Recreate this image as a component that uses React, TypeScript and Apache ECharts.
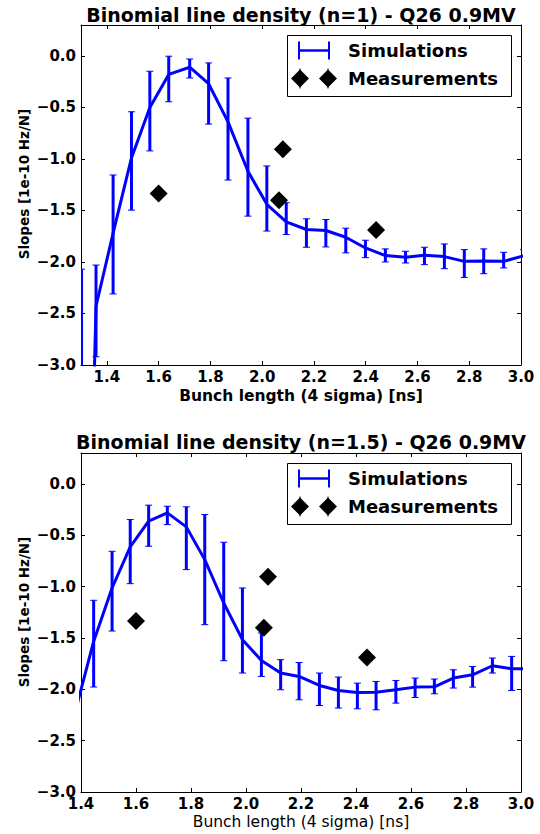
import React, { useEffect, useRef } from 'react';
import * as echarts from 'echarts';

// ---- Data ----
const titles = [
  'Binomial line density (n=1) - Q26 0.9MV',
  'Binomial line density (n=1.5) - Q26 0.9MV',
];
const xName = 'Bunch length (4 sigma) [ns]';
const yName = 'Slopes [1e-10 Hz/N]';
const legendNames = ['Simulations', 'Measurements'];

// Chart 1 (n=1): simulations with asymmetric error bars
const simX1 = [1.302, 1.358, 1.424, 1.495, 1.566, 1.639, 1.72, 1.793, 1.868, 1.945, 2.018, 2.093, 2.171, 2.246, 2.323, 2.399, 2.476, 2.554, 2.627, 2.704, 2.781, 2.856, 2.933, 3.01];
const simY1 = [-8.0, -2.43, -1.72, -0.99, -0.5, -0.18, -0.11, -0.27, -0.64, -1.12, -1.44, -1.61, -1.685, -1.695, -1.76, -1.864, -1.938, -1.955, -1.935, -1.948, -1.994, -1.99, -1.994, -1.94];
const simHi1 = [-2.07, -2.03, -1.156, -0.542, -0.149, -0.003, -0.03, -0.068, -0.214, -0.604, -1.068, -1.425, -1.581, -1.588, -1.672, -1.789, -1.873, -1.896, -1.857, -1.825, -1.88, -1.873, -1.906, -1.88];
const simLo1 = [-12.0, -2.92, -2.31, -1.497, -0.922, -0.445, -0.214, -0.662, -1.205, -1.555, -1.7, -1.734, -1.857, -1.854, -1.912, -1.958, -2.0, -2.01, -2.026, -2.065, -2.15, -2.114, -2.058, -2.0];

// Chart 2 (n=1.5)
const simX2 = [1.378, 1.446, 1.513, 1.579, 1.646, 1.714, 1.783, 1.85, 1.919, 1.987, 2.056, 2.126, 2.193, 2.267, 2.336, 2.405, 2.473, 2.545, 2.615, 2.685, 2.754, 2.824, 2.896, 2.966, 3.035];
const simY2 = [-2.23, -1.534, -1.014, -0.614, -0.364, -0.283, -0.419, -0.738, -1.16, -1.517, -1.719, -1.842, -1.875, -1.963, -2.012, -2.031, -2.028, -2.005, -1.979, -1.976, -1.891, -1.859, -1.771, -1.8, -1.8];
const simHi2 = [-1.9, -1.134, -0.657, -0.348, -0.208, -0.218, -0.224, -0.299, -0.569, -1.014, -1.452, -1.712, -1.739, -1.842, -1.881, -1.94, -1.924, -1.914, -1.891, -1.9, -1.81, -1.778, -1.696, -1.68, -1.7];
const simLo2 = [-2.6, -1.978, -1.433, -0.972, -0.608, -0.397, -0.835, -1.371, -1.722, -1.842, -1.875, -2.005, -2.102, -2.158, -2.183, -2.19, -2.2, -2.135, -2.08, -2.044, -1.988, -1.979, -1.842, -2.012, -1.9];

// Measurements (same in both charts)
const measX = [1.6, 2.08, 2.065, 2.44];
const measY = [-1.335, -0.905, -1.4, -1.69];

// Axes
const xRange1 = [1.3, 3.0];
const xRange2 = [1.4, 3.0];
const yRange = [-3.0, 0.3];
const xTicks = [1.4, 1.6, 1.8, 2.0, 2.2, 2.4, 2.6, 2.8, 3.0];
const yTicks = [-3.0, -2.5, -2.0, -1.5, -1.0, -0.5, 0.0];

const FONT = '"DejaVu Sans", sans-serif';
const BLUE = '#0000ff';

export default function App() {
  const ref = useRef<HTMLDivElement>(null);
  useEffect(() => {
    const chart = echarts.init(ref.current!, null, { renderer: 'svg' });

    const grids = [
      { left: 81, top: 25, width: 440, height: 340 },
      { left: 81, top: 453, width: 440, height: 339 },
    ];

    const fmt = (v: number) => {
      const s = (Math.abs(v) < 1e-9 ? 0 : v).toFixed(1);
      return s.replace('-', '\u2212');
    };

    const baseAxis = (gi: number, pos: string, min: number, max: number, ticks: number[], labels: boolean) => ({
      type: 'value',
      gridIndex: gi,
      position: pos,
      min,
      max,
      axisLine: { show: true, onZero: false, lineStyle: { color: '#000', width: 1 } },
      axisTick: { show: true, inside: true, length: 4, customValues: ticks, lineStyle: { color: '#000', width: 1 } },
      axisLabel: {
        show: labels,
        customValues: ticks,
        formatter: (v: number) => fmt(v),
        margin: pos === 'left' ? 5 : 4,
        fontSize: 15,
        fontWeight: 'bold',
        color: '#000',
        fontFamily: FONT,
      },
      splitLine: { show: false },
    });

    const xAxis: any[] = [];
    const yAxis: any[] = [];
    const xr = [xRange1, xRange2];
    [0, 1].forEach((gi) => {
      xAxis.push(baseAxis(gi, 'bottom', xr[gi][0], xr[gi][1], xTicks, true));
      xAxis.push(baseAxis(gi, 'top', xr[gi][0], xr[gi][1], xTicks, false));
      yAxis.push(baseAxis(gi, 'left', yRange[0], yRange[1], yTicks, true));
      yAxis.push(baseAxis(gi, 'right', yRange[0], yRange[1], yTicks, false));
    });

    const renderErr = (params: any, api: any) => {
      const x = api.value(0);
      const lo = api.value(1);
      const hi = api.value(2);
      const a = api.coord([x, hi]);
      const b = api.coord([x, lo]);
      const c = 3.5;
      return {
        type: 'group',
        children: [
          { type: 'line', shape: { x1: a[0], y1: a[1], x2: b[0], y2: b[1] }, style: { stroke: BLUE, lineWidth: 3 } },
          { type: 'line', shape: { x1: a[0] - c, y1: a[1], x2: a[0] + c, y2: a[1] }, style: { stroke: BLUE, lineWidth: 1 } },
          { type: 'line', shape: { x1: b[0] - c, y1: b[1], x2: b[0] + c, y2: b[1] }, style: { stroke: BLUE, lineWidth: 1 } },
        ],
      };
    };

    const sims = [
      { x: simX1, y: simY1, lo: simLo1, hi: simHi1 },
      { x: simX2, y: simY2, lo: simLo2, hi: simHi2 },
    ];
    const series: any[] = [];
    sims.forEach((s, gi) => {
      series.push({
        type: 'custom',
        name: legendNames[0],
        xAxisIndex: gi * 2,
        yAxisIndex: gi * 2,
        clip: true,
        z: 2,
        renderItem: renderErr,
        data: s.x.map((v, i) => [v, s.lo[i], s.hi[i]]),
      });
      series.push({
        type: 'line',
        name: legendNames[0],
        xAxisIndex: gi * 2,
        yAxisIndex: gi * 2,
        clip: true,
        z: 3,
        symbol: 'none',
        showSymbol: false,
        lineStyle: { color: BLUE, width: 3 },
        data: s.x.map((v, i) => [v, s.y[i]]),
      });
      series.push({
        type: 'scatter',
        name: legendNames[1],
        xAxisIndex: gi * 2,
        yAxisIndex: gi * 2,
        z: 4,
        symbol: 'diamond',
        symbolSize: 18,
        itemStyle: { color: '#000', opacity: 1 },
        data: measX.map((v, i) => [v, measY[i]]),
      });
    });

    const graphic: any[] = [];
    const cx = 301;
    const titleY = [15, 442];
    const xNameY = [396, 822];
    const yNameY = [184, 612];
    grids.forEach((g, gi) => {
      graphic.push({
        type: 'text', x: cx, y: titleY[gi], z: 100,
        style: { text: titles[gi], fill: '#000', font: `bold 19px ${FONT}`, align: 'center', verticalAlign: 'middle' },
      });
      graphic.push({
        type: 'text', x: cx, y: xNameY[gi], z: 100,
        style: { text: xName, fill: '#000', font: `${gi === 0 ? 'bold ' : ''}15.5px ${FONT}`, align: 'center', verticalAlign: 'middle' },
      });
      graphic.push({
        type: 'text', x: 24, y: yNameY[gi], rotation: Math.PI / 2, z: 100,
        style: { text: yName, fill: '#000', font: `bold 13.5px ${FONT}`, align: 'center', verticalAlign: 'middle' },
      });
      // legend
      const t = g.top;
      const r1 = t + 25.5;
      const r2 = t + 53.5;
      graphic.push({
        type: 'rect', z: 100,
        shape: { x: 287.5, y: t + 10.5, width: 224, height: 61 },
        style: { fill: '#fff', stroke: '#000', lineWidth: 1 },
      });
      graphic.push({ type: 'line', z: 101, shape: { x1: 299, y1: r1, x2: 329, y2: r1 }, style: { stroke: BLUE, lineWidth: 2.5 } });
      graphic.push({ type: 'line', z: 101, shape: { x1: 299, y1: r1 - 9, x2: 299, y2: r1 + 9 }, style: { stroke: BLUE, lineWidth: 2 } });
      graphic.push({ type: 'line', z: 101, shape: { x1: 329, y1: r1 - 9, x2: 329, y2: r1 + 9 }, style: { stroke: BLUE, lineWidth: 2 } });
      [300, 328].forEach((dx) => {
        graphic.push({ type: 'line', z: 101, shape: { x1: dx, y1: r2 - 10, x2: dx, y2: r2 + 10 }, style: { stroke: '#000', lineWidth: 1 } });
        graphic.push({
          type: 'polygon', z: 102,
          shape: { points: [[dx, r2 - 9], [dx + 9, r2], [dx, r2 + 9], [dx - 9, r2]] },
          style: { fill: '#000' },
        });
      });
      graphic.push({
        type: 'text', x: 348, y: r1, z: 101,
        style: { text: legendNames[0], fill: '#000', font: `bold 18px ${FONT}`, align: 'left', verticalAlign: 'middle' },
      });
      graphic.push({
        type: 'text', x: 348, y: r2, z: 101,
        style: { text: legendNames[1], fill: '#000', font: `bold 18px ${FONT}`, align: 'left', verticalAlign: 'middle' },
      });
    });

    chart.setOption({
      animation: false,
      backgroundColor: '#fff',
      grid: grids,
      xAxis,
      yAxis,
      series,
      graphic,
    });
    return () => chart.dispose();
  }, []);
  return <div ref={ref} style={{ position: 'absolute', left: 0, top: 0, width: 540, height: 834 }} />;
}
